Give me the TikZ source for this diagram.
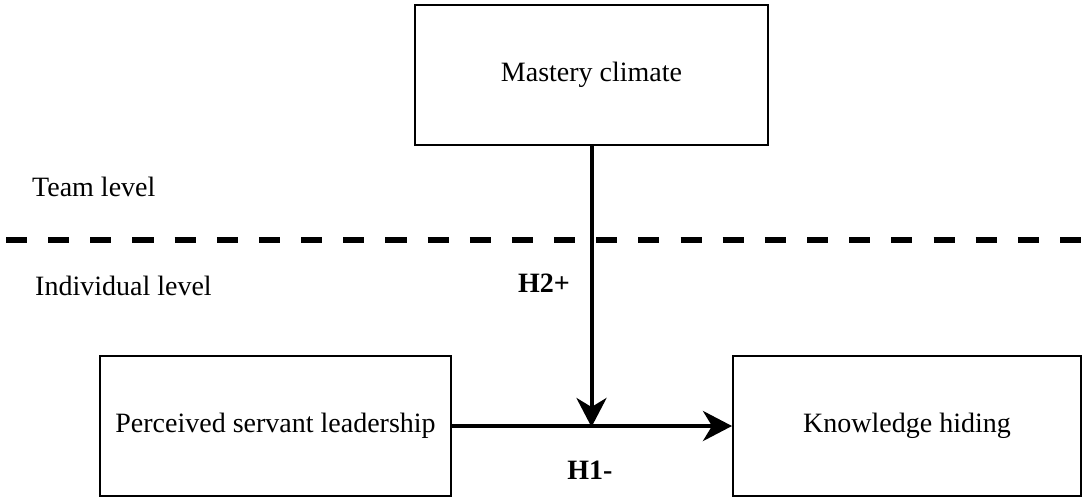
\documentclass[tikz,border=0pt]{standalone}
\usepackage{fontspec}
\setmainfont{Liberation Serif}
\usetikzlibrary{arrows.meta}
\begin{document}
\begin{tikzpicture}[x=1pt,y=-1pt,
  box/.style={draw=black,line width=2pt,minimum width=#1,minimum height=140pt,inner sep=0pt,align=center},
  lbl/.style={inner sep=0pt,font=\fontsize{28}{33}\selectfont},
  conn/.style={line width=4pt,-{Stealth[length=29pt,width=30pt,inset=9pt]}},
  sep/.style={line width=6.5pt,dash pattern=on 21.08pt off 21.08pt}
]
\useasboundingbox (0,0) rectangle (1083,500);
\node[box=353pt,lbl] (mc) at (591.5,75) {Mastery climate};
\node[box=351pt,lbl] (ps) at (275.5,426) {Perceived servant leadership};
\node[box=348pt,lbl] (kh) at (907,426) {Knowledge hiding};
\coordinate (d1) at (6,240);
\coordinate (d2) at (1083,240);
\draw[sep] (d1) -- (d2);
\node[lbl,anchor=west] (tl) at (32,187) {Team level};
\node[lbl,anchor=west] (il) at (35,286) {Individual level};
\node[lbl,font=\fontsize{28}{33}\selectfont\bfseries] (h2) at (544,283) {H2+};
\node[lbl,font=\fontsize{28}{33}\selectfont\bfseries] (h1) at (590,470) {H1-};
\draw[conn] (ps.east) -- (kh.west);
\coordinate (j) at (mc.south |- ps.east);
\draw[conn] (mc.south) -- ([yshift=-1pt]j);
\end{tikzpicture}
\end{document}
